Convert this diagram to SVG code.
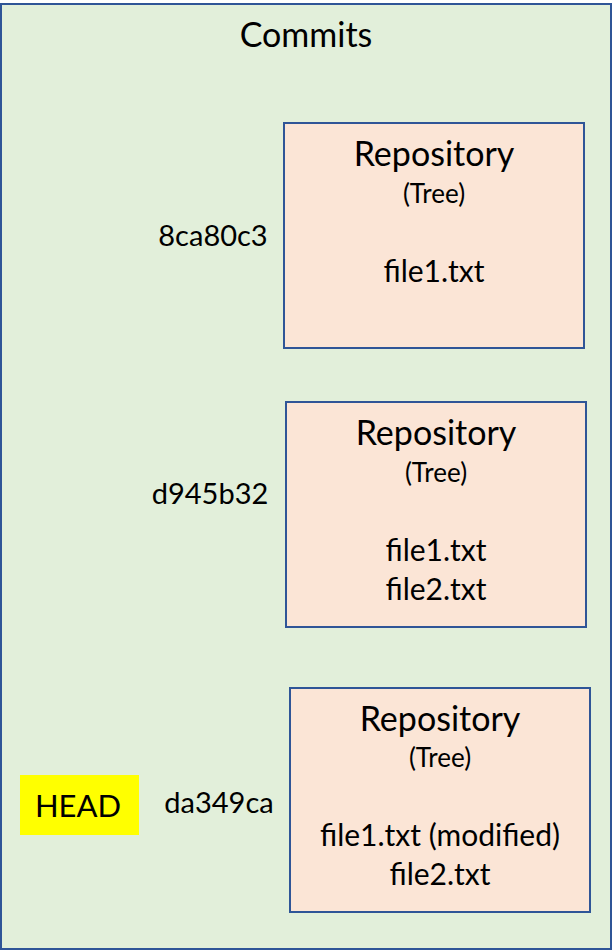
<svg xmlns="http://www.w3.org/2000/svg" width="613" height="951" viewBox="0 0 613 951">
<style>
text{font-family:"Lato","Open Sans","Liberation Sans",sans-serif;fill:#000;text-anchor:middle}
.repo{fill:#FBE5D6;stroke:#2F5597;stroke-width:2}
.t1{font-size:34px}
.t2{font-size:26px}
.t3{font-size:30px}
.h{font-size:29px}
</style>
<g id="commits">
<rect x="1" y="4" width="610" height="945" fill="#E2EFDA" stroke="#2F5597" stroke-width="2"/>
<text x="306" y="47" class="t1">Commits</text>
</g>
<g id="commit1">
<text x="213" y="246" class="h">8ca80c3</text>
<rect class="repo" x="284" y="123" width="300" height="225"/>
<text x="434" y="166" class="t1">Repository</text>
<text x="434" y="203" class="t2">(Tree)</text>
<text x="434" y="282" class="t3">file1.txt</text>
</g>
<g id="commit2">
<text x="210" y="504" class="h">d945b32</text>
<rect class="repo" x="286" y="402" width="300" height="225"/>
<text x="436" y="445" class="t1">Repository</text>
<text x="436" y="482" class="t2">(Tree)</text>
<text x="436" y="561" class="t3">file1.txt</text>
<text x="436" y="600" class="t3">file2.txt</text>
</g>
<g id="commit3">
<text x="219" y="813" class="h">da349ca</text>
<rect class="repo" x="290" y="688" width="300" height="224"/>
<text x="440" y="731" class="t1">Repository</text>
<text x="440" y="767" class="t2">(Tree)</text>
<text x="440" y="846" class="t3">file1.txt (modified)</text>
<text x="440" y="885" class="t3">file2.txt</text>
</g>
<g id="head">
<rect x="20" y="775" width="119" height="60" fill="#FFFF00"/>
<text x="78" y="817" style="font-size:31px">HEAD</text>
</g>
</svg>
